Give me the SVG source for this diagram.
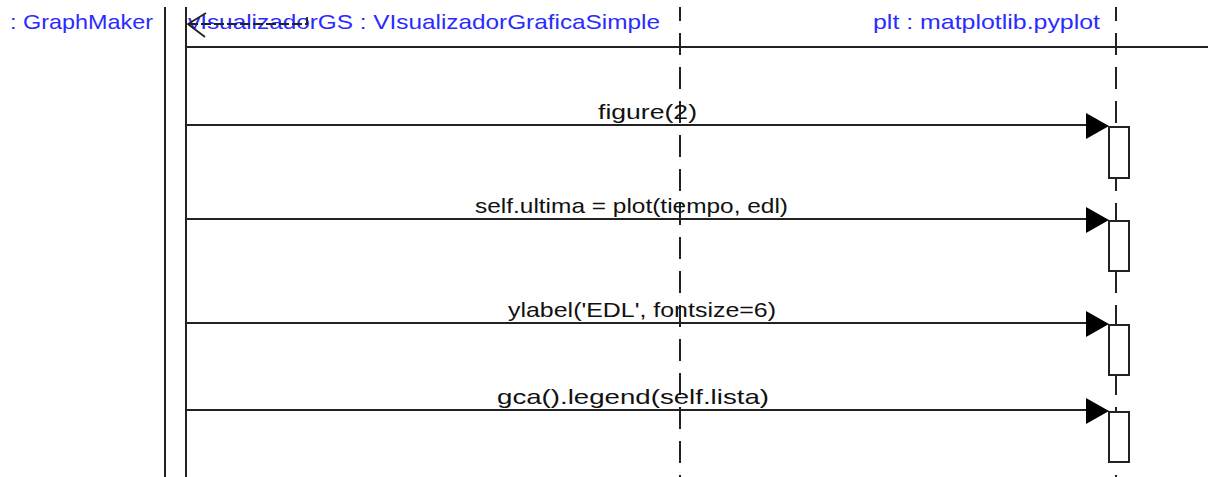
<svg xmlns="http://www.w3.org/2000/svg" width="1208" height="477" viewBox="0 0 1208 477">
<style>
.hdr{font-family:"Liberation Sans",Arial,sans-serif;font-size:21px;fill:#2b2bff}
.lbl{font-family:"Liberation Sans",Arial,sans-serif;font-size:21px;fill:#111}
.solid{stroke:#222;stroke-width:2;fill:none}
.life{stroke:#222;stroke-width:2;fill:none;stroke-dasharray:22 12;stroke-dashoffset:8}
.msg{stroke:#222;stroke-width:1.8;fill:none}
.act{fill:#fff;stroke:#222;stroke-width:2}
.head{fill:#000}
</style>
<rect width="1208" height="477" fill="#fff"/>
<g id="graphmaker">
<text class="hdr" x="10" y="29" textLength="143" lengthAdjust="spacingAndGlyphs">: GraphMaker</text>
<line class="solid" x1="165" y1="7" x2="165" y2="477"/>
</g>
<g id="visualizadorGS">
<text class="hdr" x="188" y="29" textLength="472" lengthAdjust="spacingAndGlyphs">vIsualizadorGS : VIsualizadorGraficaSimple</text>
<line class="solid" x1="186" y1="7" x2="186" y2="477"/>
<line class="life" x1="680" y1="7" x2="680" y2="477"/>
</g>
<g id="plt">
<text class="hdr" x="873" y="29" textLength="227" lengthAdjust="spacingAndGlyphs">plt : matplotlib.pyplot</text>
<line class="life" x1="1116" y1="7" x2="1116" y2="477"/>
<rect class="act" x="1109" y="127" width="20" height="51"/>
<rect class="act" x="1109" y="221" width="20" height="50"/>
<rect class="act" x="1109" y="325" width="20" height="50"/>
<rect class="act" x="1109" y="412" width="20" height="50"/>
</g>
<g id="connectors">
<line class="solid" x1="186" y1="47" x2="1208" y2="47"/>
<line class="msg" x1="188" y1="24" x2="307" y2="24" stroke-dasharray="10 3"/>
<line class="msg" x1="307" y1="17" x2="307" y2="25"/>
<polyline class="msg" points="206,13 188,24 205,37"/>
<line class="msg" x1="186" y1="125" x2="1090" y2="125"/>
<polygon class="head" points="1086,113 1109,126 1086,139"/>
<line class="msg" x1="186" y1="219" x2="1090" y2="219"/>
<polygon class="head" points="1086,207 1109,220 1086,233"/>
<line class="msg" x1="186" y1="323" x2="1090" y2="323"/>
<polygon class="head" points="1086,311 1109,324 1086,337"/>
<line class="msg" x1="186" y1="410" x2="1090" y2="410"/>
<polygon class="head" points="1086,398 1109,411 1086,424"/>
<text class="lbl" x="598" y="119" textLength="99" lengthAdjust="spacingAndGlyphs">figure(2)</text>
<text class="lbl" x="475" y="213" textLength="313" lengthAdjust="spacingAndGlyphs">self.ultima = plot(tiempo, edl)</text>
<text class="lbl" x="508" y="317" textLength="268" lengthAdjust="spacingAndGlyphs">ylabel('EDL', fontsize=6)</text>
<text class="lbl" x="497" y="404" textLength="272" lengthAdjust="spacingAndGlyphs">gca().legend(self.lista)</text>
</g>
</svg>
